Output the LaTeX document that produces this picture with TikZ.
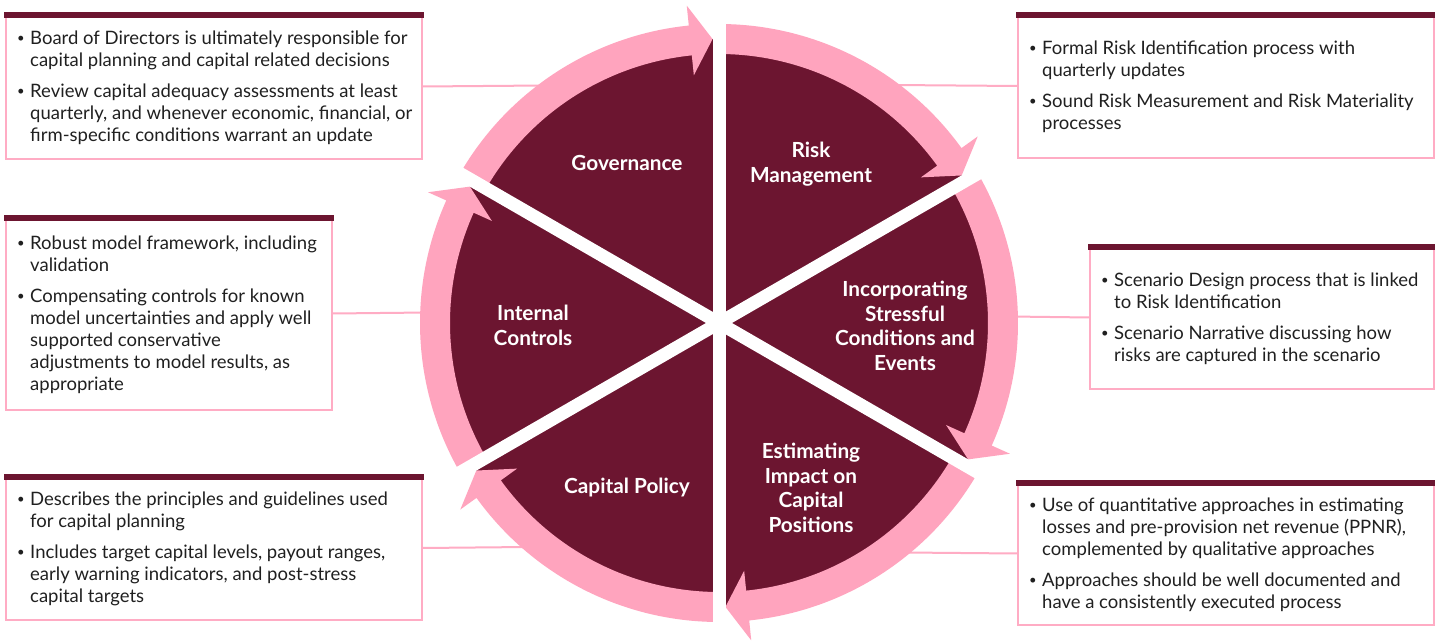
\documentclass[tikz,border=0pt]{standalone}
\usepackage{fontspec}
\setmainfont{Lato}
\definecolor{maroonc}{RGB}{108,21,48}
\definecolor{pinkc}{RGB}{255,164,190}
\definecolor{linec}{RGB}{255,172,196}
\definecolor{txtc}{RGB}{32,32,32}
\newcommand{\bitem}{\makebox[13pt][l]{\raisebox{1.8pt}{\fontsize{13}{13}\selectfont\textbullet}}}
\newcommand{\bcont}{\hspace*{13pt}}
\newcommand{\cycarrow}[2]{%
  \fill[pinkc] (#1:299) arc[start angle=#1, end angle={#2+5.8}, radius=299]
    -- ({#2+5.8}:319) -- ({#2+1.3}:284) -- ({#2+5.8}:249) -- ({#2+5.8}:269)
    arc[start angle={#2+5.8}, end angle=#1, radius=269] -- cycle;}
\begin{document}
\begin{tikzpicture}[x=1pt,y=1pt,
  infobox/.style={draw=linec, line width=2pt, inner sep=0pt, anchor=north west},
  infotext/.style={align=left, anchor=west, inner sep=0pt, text=txtc,
    font=\fontsize{18.5}{22}\selectfont},
  seclabel/.style={align=center, inner sep=0pt, text=white,
    font=\fontsize{20.8}{24.6}\selectfont\bfseries},
  conn/.style={draw=linec, line width=2pt},
  gapline/.style={draw=white, line width=13pt},
  topbar/.style={fill=maroonc}]
\useasboundingbox (0,0) rectangle (1435,640);
\fill[white] (0,0) rectangle (1435,640);

% boxes
\node[infobox, minimum width=416, minimum height=145] (gbox) at (5,627) {};
\node[infobox, minimum width=416, minimum height=144] (rbox) at (1017,627) {};
\node[infobox, minimum width=326, minimum height=193] (ibox) at (5,424) {};
\node[infobox, minimum width=344, minimum height=143] (sbox) at (1089,395) {};
\node[infobox, minimum width=416, minimum height=144] (cbox) at (5,165) {};
\node[infobox, minimum width=416, minimum height=143] (ebox) at (1017,159) {};

\foreach \b in {gbox,rbox,ibox,sbox,cbox,ebox}{
  \fill[topbar] ([xshift=-1pt,yshift=1pt]\b.north west) rectangle ([xshift=1pt,yshift=-5pt]\b.north east);
}

% box texts
\node[infotext] (gtxt) at ([xshift=12pt,yshift=-1pt]gbox.west) {%
\bitem Board of Directors is ultimately responsible for\\
\bcont capital planning and capital related decisions\\[9pt]
\bitem Review capital adequacy assessments at least\\
\bcont quarterly, and whenever economic, financial, or\\
\bcont firm-specific conditions warrant an update};

\node[infotext] (rtxt) at ([xshift=12pt,yshift=-1pt]rbox.west) {%
\bitem Formal Risk Identification process with\\
\bcont quarterly updates\\[9pt]
\bitem Sound Risk Measurement and Risk Materiality\\
\bcont processes};

\node[infotext] (itxt) at ([xshift=12pt,yshift=-1pt]ibox.west) {%
\bitem Robust model framework, including\\
\bcont validation\\[9pt]
\bitem Compensating controls for known\\
\bcont model uncertainties and apply well\\
\bcont supported conservative\\
\bcont adjustments to model results, as\\
\bcont appropriate};

\node[infotext] (stxt) at ([xshift=12pt,yshift=-1pt]sbox.west) {%
\bitem Scenario Design process that is linked\\
\bcont to Risk Identification\\[9pt]
\bitem Scenario Narrative discussing how\\
\bcont risks are captured in the scenario};

\node[infotext] (ctxt) at ([xshift=12pt,yshift=-1pt]cbox.west) {%
\bitem Describes the principles and guidelines used\\
\bcont for capital planning\\[9pt]
\bitem Includes target capital levels, payout ranges,\\
\bcont early warning indicators, and post-stress\\
\bcont capital targets};

\node[infotext] (etxt) at ([xshift=12pt,yshift=-1pt]ebox.west) {%
\bitem Use of quantitative approaches in estimating\\
\bcont losses and pre-provision net revenue (PPNR),\\
\bcont complemented by qualitative approaches\\[9pt]
\bitem Approaches should be well documented and\\
\bcont have a consistently executed process};

% connector end points on the ring
\coordinate (ctr) at (719,317);
\coordinate (gc) at (545,554.5);
\coordinate (rc) at (893,555);
\coordinate (ic) at (428,327.5);
\coordinate (sc) at (1010,323.5);
\coordinate (cc) at (528,93);
\coordinate (ec) at (904,87.5);

\draw[conn] (gbox.east) -- (gc);
\draw[conn] (rbox.west) -- (rc);
\draw[conn] (ibox.east) -- (ic);
\draw[conn] (sbox.west) -- (sc);
\draw[conn] (cbox.east) -- (cc);
\draw[conn] (ebox.west) -- (ec);

% wheel
\begin{scope}[shift={(ctr)}]
  \fill[maroonc] (0,0) circle[radius=284];
  \cycarrow{150}{90}
  \cycarrow{90}{30}
  \cycarrow{30}{-30}
  \cycarrow{-30}{-90}
  \cycarrow{-90}{-150}
  \cycarrow{210}{150}
  \draw[gapline] (90:330) -- (270:330);
  \draw[gapline] (30:330) -- (210:330);
  \draw[gapline] (150:330) -- (330:330);
\end{scope}

% sector labels
\node[seclabel] (lgov) at (627,477) {Governance};
\node[seclabel] (lrisk) at (811,476) {Risk\\Management};
\node[seclabel] (lint) at (533,314.5) {Internal\\Controls};
\node[seclabel] (linc) at (905,314) {Incorporating\\Stressful\\Conditions and\\Events};
\node[seclabel] (lcap) at (627,152) {Capital Policy};
\node[seclabel] (lest) at (811,152) {Estimating\\Impact on\\Capital\\Positions};
\end{tikzpicture}
\end{document}
